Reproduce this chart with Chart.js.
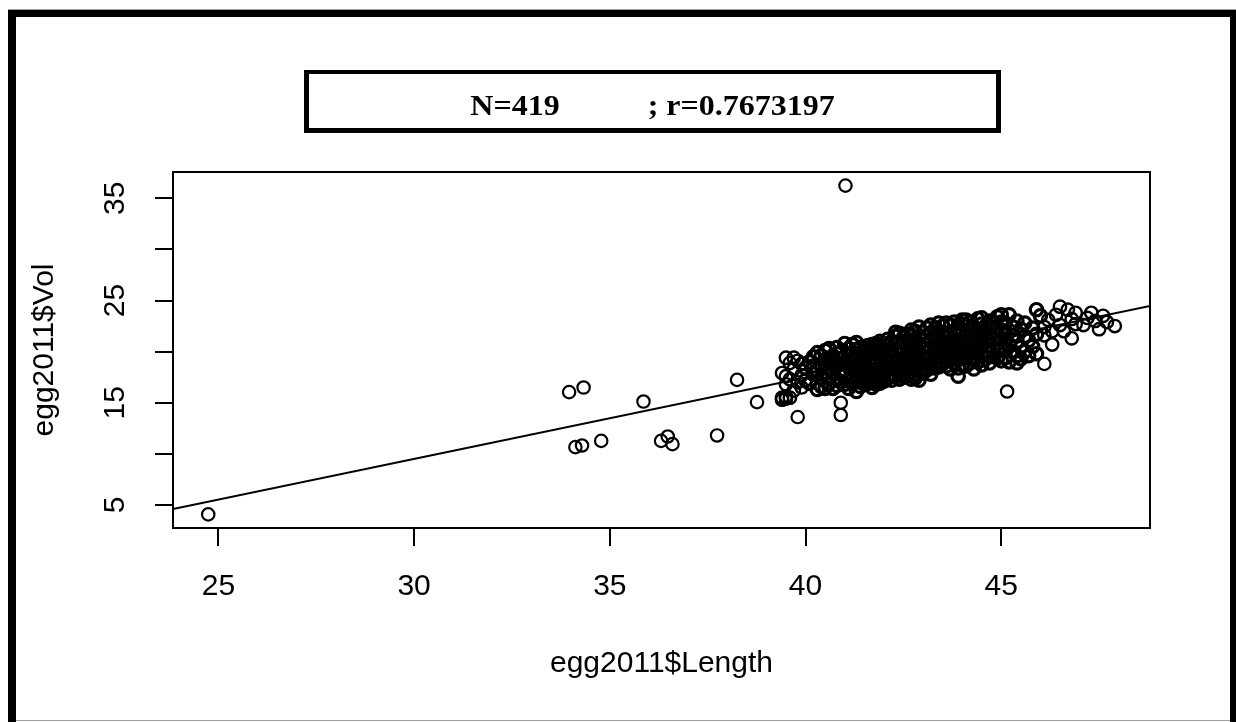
<!DOCTYPE html>
<html>
<head>
<meta charset="utf-8">
<script src="https://cdn.jsdelivr.net/npm/chart.js@4.4.1/dist/chart.umd.min.js"></script>
<style>
  body { margin: 0; background: #fff; }
  #wrap { position: relative; width: 1236px; height: 722px; overflow: hidden; background: #fff; }
  #c { position: absolute; left: 0; top: 0; }
  .bar { position: absolute; background: #000; }
  .gray { position: absolute; background: #a0a0a0; }
  #titleBox {
    position: absolute; left: 304px; top: 70px; width: 697px; height: 63px;
    box-sizing: border-box; border: 5px solid #000; border-top-width: 4px;
  }
  #titleText {
    position: absolute; left: 304px; top: 88px; width: 697px; text-align: center;
    font: bold 32px 'Liberation Serif', 'Times New Roman', serif; line-height: 32px;
    white-space: pre; color: #000; transform: scaleY(0.9); transform-origin: 50% 27px;
  }
</style>
</head>
<body>
<div id="wrap">
  <canvas id="c" width="1236" height="722"></canvas>
  <div class="gray" style="left:8px;top:9px;width:1228px;height:1px"></div>
  <div class="bar" style="left:8px;top:10px;width:1228px;height:7px"></div>
  <div class="bar" style="left:8px;top:10px;width:8px;height:712px"></div>
  <div class="bar" style="left:1230px;top:10px;width:6px;height:712px"></div>
  <div class="gray" style="left:16px;top:720px;width:1214px;height:1px"></div>
  <div id="titleBox"></div>
  <div id="titleText">N=419           ; r=0.7673197</div>
</div>
<script>
const xTickValues = [25, 30, 35, 40, 45];
const yTickValues = [5, 10, 15, 20, 25, 30, 35];
const yTickLabels = ['5', '', '15', '', '25', '', '35'];
const xRange = [23.84, 48.80];
const yRange = [2.75, 37.57];

// regression line (abline) end points at the plot edges
const fitLength = [23.84, 48.80];
const fitVol = [4.6, 24.47];

// eggs away from the main group, plus the thin edges of it
const outlierPoints = [
    [24.74, 4.08], [41.02, 36.24], [33.96, 16.04], [34.33, 16.49], [35.86, 15.12],
    [38.25, 17.24], [38.76, 15.06], [34.12, 10.66], [34.29, 10.82], [34.78, 11.27],
    [36.31, 11.27], [36.48, 11.70], [36.60, 10.95], [37.74, 11.80],
    [39.8, 13.6], [40.9, 15.0], [40.9, 13.8], [45.15, 16.1], [46.1, 18.8],
];

const sparsePoints = [
    [39.4, 15.5], [39.5, 15.4], [39.5, 15.6], [39.6, 15.5], [39.4, 15.3], [39.5, 19.4], [39.7, 19.4], [39.4, 17.9],
    [39.5, 17.6], [39.5, 16.8], [39.6, 17.3], [39.7, 18.3], [39.8, 17.0], [39.9, 18.8], [39.9, 16.5],
    [39.6, 18.9], [39.8, 19.1], [39.9, 17.7], [39.7, 16.2],

    [46.1, 21.6], [46.1, 22.4], [46.2, 23.1], [46.3, 20.7], [46.3, 22.0], [46.4, 23.6], [46.5, 24.4],
    [46.5, 22.6], [46.6, 22.0], [46.7, 24.1], [46.8, 21.3], [46.8, 23.2], [46.9, 23.8], [46.9, 22.7],

    [47.1, 22.6], [47.2, 23.3], [47.3, 23.8], [47.4, 23.0], [47.6, 23.5], [47.7, 22.9], [47.9, 22.5], [47.5, 22.2],
];

// main group
const clusterPoints = [
    [40.0, 17.2], [40.0, 18.4], [40.1, 16.9], [40.1, 19.0], [40.2, 19.5], [40.2, 17.8], [40.3, 16.3], [40.3, 18.1],
    [40.3, 19.9], [40.4, 17.4], [40.4, 18.7], [40.4, 16.6], [40.5, 19.2], [40.5, 17.9], [40.5, 20.1], [40.6, 18.3],
    [40.6, 16.9], [40.6, 20.3], [40.6, 17.6], [40.7, 19.6], [40.7, 18.0], [40.7, 16.4], [40.7, 18.9], [40.8, 17.3],
    [40.8, 19.8], [40.8, 18.6], [40.8, 20.4], [40.9, 17.0], [40.9, 18.2], [40.9, 19.3],
    [41.0, 20.8], [41.0, 16.8], [41.0, 17.7], [41.0, 18.9], [40.2, 18.6], [40.4, 19.6], [40.5, 16.4], [40.6, 19.0],
    [40.8, 16.7], [40.9, 20.0],

    [41.1, 17.2], [41.1, 18.5], [41.1, 19.6], [41.1, 20.3], [41.1, 16.4], [41.2, 17.8], [41.2, 18.9], [41.2, 20.7],
    [41.2, 16.9], [41.2, 19.3], [41.3, 16.1], [41.3, 17.5], [41.3, 18.3], [41.3, 19.8], [41.3, 20.9], [41.3, 18.8],
    [41.4, 17.0], [41.4, 18.0], [41.4, 19.1], [41.4, 20.4], [41.4, 16.6], [41.4, 17.7], [41.5, 18.6], [41.5, 19.5],
    [41.5, 20.1], [41.5, 17.3], [41.5, 16.8], [41.5, 18.2], [41.6, 19.0], [41.6, 20.6], [41.6, 17.6], [41.6, 18.4],
    [41.6, 16.9], [41.6, 19.7], [41.7, 17.1], [41.7, 18.0], [41.7, 18.8], [41.7, 19.4], [41.7, 20.2], [41.7, 17.5],
    [41.8, 16.8], [41.8, 18.3], [41.8, 19.0], [41.8, 19.9], [41.8, 20.8], [41.8, 17.7], [41.9, 17.2], [41.9, 18.6],
    [41.9, 19.3], [41.9, 20.5], [41.9, 18.1], [41.9, 16.9], [42.0, 17.6], [42.0, 18.9], [42.0, 19.6], [42.0, 20.3],
    [42.0, 18.2], [41.3, 19.4], [41.5, 17.9], [41.7, 19.1], [41.9, 17.8], [41.2, 17.4], [41.3, 17.1], [41.4, 19.8],
    [41.5, 19.0], [41.6, 20.0], [41.7, 16.5], [41.8, 17.3], [41.9, 19.7], [42.0, 17.1], [41.1, 19.0], [41.3, 20.2],
    [41.5, 20.5], [41.7, 20.7], [41.9, 21.0],

    [42.1, 17.4], [42.1, 18.3], [42.1, 19.1], [42.1, 19.8], [42.1, 20.6], [42.1, 21.2], [42.1, 18.7], [42.2, 17.8],
    [42.2, 18.9], [42.2, 19.5], [42.2, 20.2], [42.2, 21.0], [42.2, 17.2], [42.2, 18.4], [42.3, 17.6], [42.3, 18.6],
    [42.3, 19.3], [42.3, 20.0], [42.3, 20.8], [42.3, 21.5], [42.3, 19.0], [42.4, 17.3], [42.4, 18.1], [42.4, 18.8],
    [42.4, 19.7], [42.4, 20.4], [42.4, 21.8], [42.4, 19.2], [42.5, 17.9], [42.5, 18.5], [42.5, 19.4], [42.5, 20.1],
    [42.5, 20.9], [42.5, 21.4], [42.5, 17.5], [42.6, 18.2], [42.6, 19.0], [42.6, 19.8], [42.6, 20.5], [42.6, 21.1],
    [42.6, 18.7], [42.6, 17.7], [42.7, 17.3], [42.7, 18.4], [42.7, 19.2], [42.7, 20.0], [42.7, 20.7], [42.7, 21.6],
    [42.7, 19.6], [42.8, 17.8], [42.8, 18.6], [42.8, 19.5], [42.8, 20.3], [42.8, 21.2], [42.8, 22.0], [42.8, 18.9],
    [42.9, 17.2], [42.9, 18.1], [42.9, 19.0], [42.9, 19.9], [42.9, 20.6], [42.9, 21.4], [42.9, 22.4], [43.0, 17.9],
    [43.0, 18.8], [43.0, 19.6], [43.0, 20.4], [43.0, 21.1], [43.0, 21.9], [43.0, 18.3], [42.1, 20.0], [42.3, 18.2],
    [42.4, 20.9], [42.7, 18.0], [42.8, 20.7], [42.4, 17.7], [42.6, 21.7], [42.8, 17.4], [42.3, 21.9], [42.7, 22.1],

    [43.1, 18.2], [43.1, 19.1], [43.1, 19.9], [43.1, 20.7], [43.1, 21.5], [43.1, 22.3], [43.1, 18.7], [43.2, 17.8],
    [43.2, 18.9], [43.2, 19.6], [43.2, 20.3], [43.2, 21.0], [43.2, 21.8], [43.2, 22.6], [43.3, 18.4], [43.3, 19.3],
    [43.3, 20.1], [43.3, 20.8], [43.3, 21.6], [43.3, 22.2], [43.3, 19.7], [43.4, 18.5], [43.4, 19.0], [43.4, 19.8],
    [43.4, 20.5], [43.4, 21.3], [43.4, 22.0], [43.4, 22.8], [43.5, 18.8], [43.5, 19.5], [43.5, 20.2], [43.5, 21.0],
    [43.5, 21.7], [43.5, 22.5], [43.5, 20.6], [43.6, 18.6], [43.6, 19.4], [43.6, 20.0], [43.6, 20.9], [43.6, 21.4],
    [43.6, 22.8], [43.6, 19.8], [43.7, 18.3], [43.7, 19.2], [43.7, 20.4], [43.7, 21.1], [43.7, 21.9], [43.7, 22.6],
    [43.7, 19.7], [43.8, 18.9], [43.8, 19.6], [43.8, 20.3], [43.8, 21.2], [43.8, 22.0], [43.8, 22.9], [43.8, 20.7],
    [43.9, 17.6], [43.9, 18.4], [43.9, 19.3], [43.9, 20.1], [43.9, 20.8], [43.9, 21.6], [43.9, 22.4], [44.0, 18.7],
    [44.0, 19.5], [44.0, 20.2], [44.0, 21.0], [44.0, 21.8], [44.0, 22.7], [44.0, 23.1], [43.3, 18.8], [43.9, 19.8],
    [43.4, 21.7], [43.6, 21.8], [44.0, 20.6],

    [44.1, 18.6], [44.1, 19.4], [44.1, 20.2], [44.1, 21.0], [44.1, 21.7], [44.1, 22.5], [44.1, 23.1], [44.2, 18.9],
    [44.2, 19.8], [44.2, 20.6], [44.2, 21.4], [44.2, 22.2], [44.2, 22.9], [44.3, 18.3], [44.3, 19.2], [44.3, 20.0],
    [44.3, 20.8], [44.3, 21.6], [44.3, 22.4], [44.4, 19.0], [44.4, 19.9], [44.4, 20.5], [44.4, 21.3], [44.4, 22.0],
    [44.4, 23.2], [44.5, 18.7], [44.5, 19.6], [44.5, 20.4], [44.5, 21.1], [44.5, 21.9], [44.5, 22.7], [44.5, 23.3],
    [44.6, 19.3], [44.6, 20.1], [44.6, 20.9], [44.6, 21.7], [44.6, 22.5], [44.7, 18.9], [44.7, 19.8], [44.7, 20.6],
    [44.7, 21.4], [44.7, 22.2], [44.7, 23.0], [44.8, 19.5], [44.8, 20.3], [44.8, 21.2], [44.8, 22.0], [44.8, 22.8],
    [44.9, 19.4], [44.9, 20.0], [44.9, 20.8], [44.9, 21.6], [44.9, 22.4], [44.9, 23.4], [45.0, 19.1], [45.0, 20.5],
    [45.0, 21.3], [45.0, 22.1], [45.0, 22.9], [45.0, 23.6],

    [45.1, 19.4], [45.1, 20.3], [45.1, 21.2], [45.1, 22.0], [45.1, 22.8], [45.2, 23.6], [45.2, 20.7],
    [45.2, 19.0], [45.3, 21.6], [45.3, 22.4], [45.3, 20.0], [45.4, 18.9], [45.4, 19.6], [45.4, 21.0], [45.4, 23.0],
    [45.5, 20.4], [45.5, 22.2], [45.5, 19.3], [45.6, 21.5], [45.6, 20.0], [45.6, 22.8], [45.7, 19.6], [45.7, 21.1],
    [45.8, 20.5], [45.8, 22.3], [45.9, 24.1], [45.9, 21.7], [45.9, 19.8], [46.0, 23.5],
];

const AXIS_FONT = { family: "'Liberation Sans', Arial, sans-serif", size: 30 };

function toXY(list) {
    return list.map(p => ({ x: p[0], y: p[1] }));
}

const plotBox = {
    id: 'plotBox',
    afterDraw(chart) {
        const { ctx, chartArea: a } = chart;
        ctx.save();
        ctx.strokeStyle = '#000';
        ctx.lineWidth = 2;
        ctx.strokeRect(a.left, a.top, a.right - a.left, a.bottom - a.top);
        ctx.restore();
    },
};

function circles(data, width) {
    return {
        data: toXY(data),
        pointRadius: 6.2,
        pointBorderWidth: width,
        pointBorderColor: '#000',
        pointBackgroundColor: 'rgba(0,0,0,0)',
        showLine: false,
    };
}

new Chart(document.getElementById('c'), {
    type: 'scatter',
    data: {
        datasets: [
            circles(outlierPoints, 2.2),
            circles(sparsePoints, 2.4),
            circles(clusterPoints, 3.2),
            {
                type: 'line',
                data: fitLength.map((x, i) => ({ x: x, y: fitVol[i] })),
                borderColor: '#000',
                borderWidth: 2,
                pointRadius: 0,
                fill: false,
            },
        ],
    },
    options: {
        responsive: false,
        animation: false,
        layout: { padding: { top: 172, right: 86, bottom: 0, left: 0 } },
        plugins: { legend: { display: false }, tooltip: { enabled: false } },
        scales: {
            x: {
                type: 'linear',
                min: xRange[0],
                max: xRange[1],
                afterBuildTicks: (scale) => { scale.ticks = xTickValues.map(v => ({ value: v })); },
                afterFit: (scale) => { scale.height = 194; },
                border: { display: false },
                grid: { drawOnChartArea: false, drawTicks: true, tickLength: 18, lineWidth: 2, color: '#000' },
                ticks: { font: AXIS_FONT, color: '#000', padding: 23, maxRotation: 0, callback: (v) => String(v) },
                title: { display: true, text: 'egg2011$Length', font: AXIS_FONT, color: '#000', padding: { bottom: 40 } },
            },
            y: {
                type: 'linear',
                min: yRange[0],
                max: yRange[1],
                afterBuildTicks: (scale) => { scale.ticks = yTickValues.map(v => ({ value: v })); },
                afterFit: (scale) => { scale.width = 173; },
                border: { display: false },
                grid: { drawOnChartArea: false, drawTicks: true, tickLength: 18, lineWidth: 2, color: '#000' },
                ticks: {
                    font: AXIS_FONT, color: '#000', padding: 23, minRotation: 90, maxRotation: 90,
                    crossAlign: 'center',
                    callback: (v, i) => yTickLabels[i],
                },
                title: { display: true, text: 'egg2011$Vol', font: AXIS_FONT, color: '#000', padding: { top: 27 } },
            },
        },
    },
    plugins: [plotBox],
});
</script>
</body>
</html>
